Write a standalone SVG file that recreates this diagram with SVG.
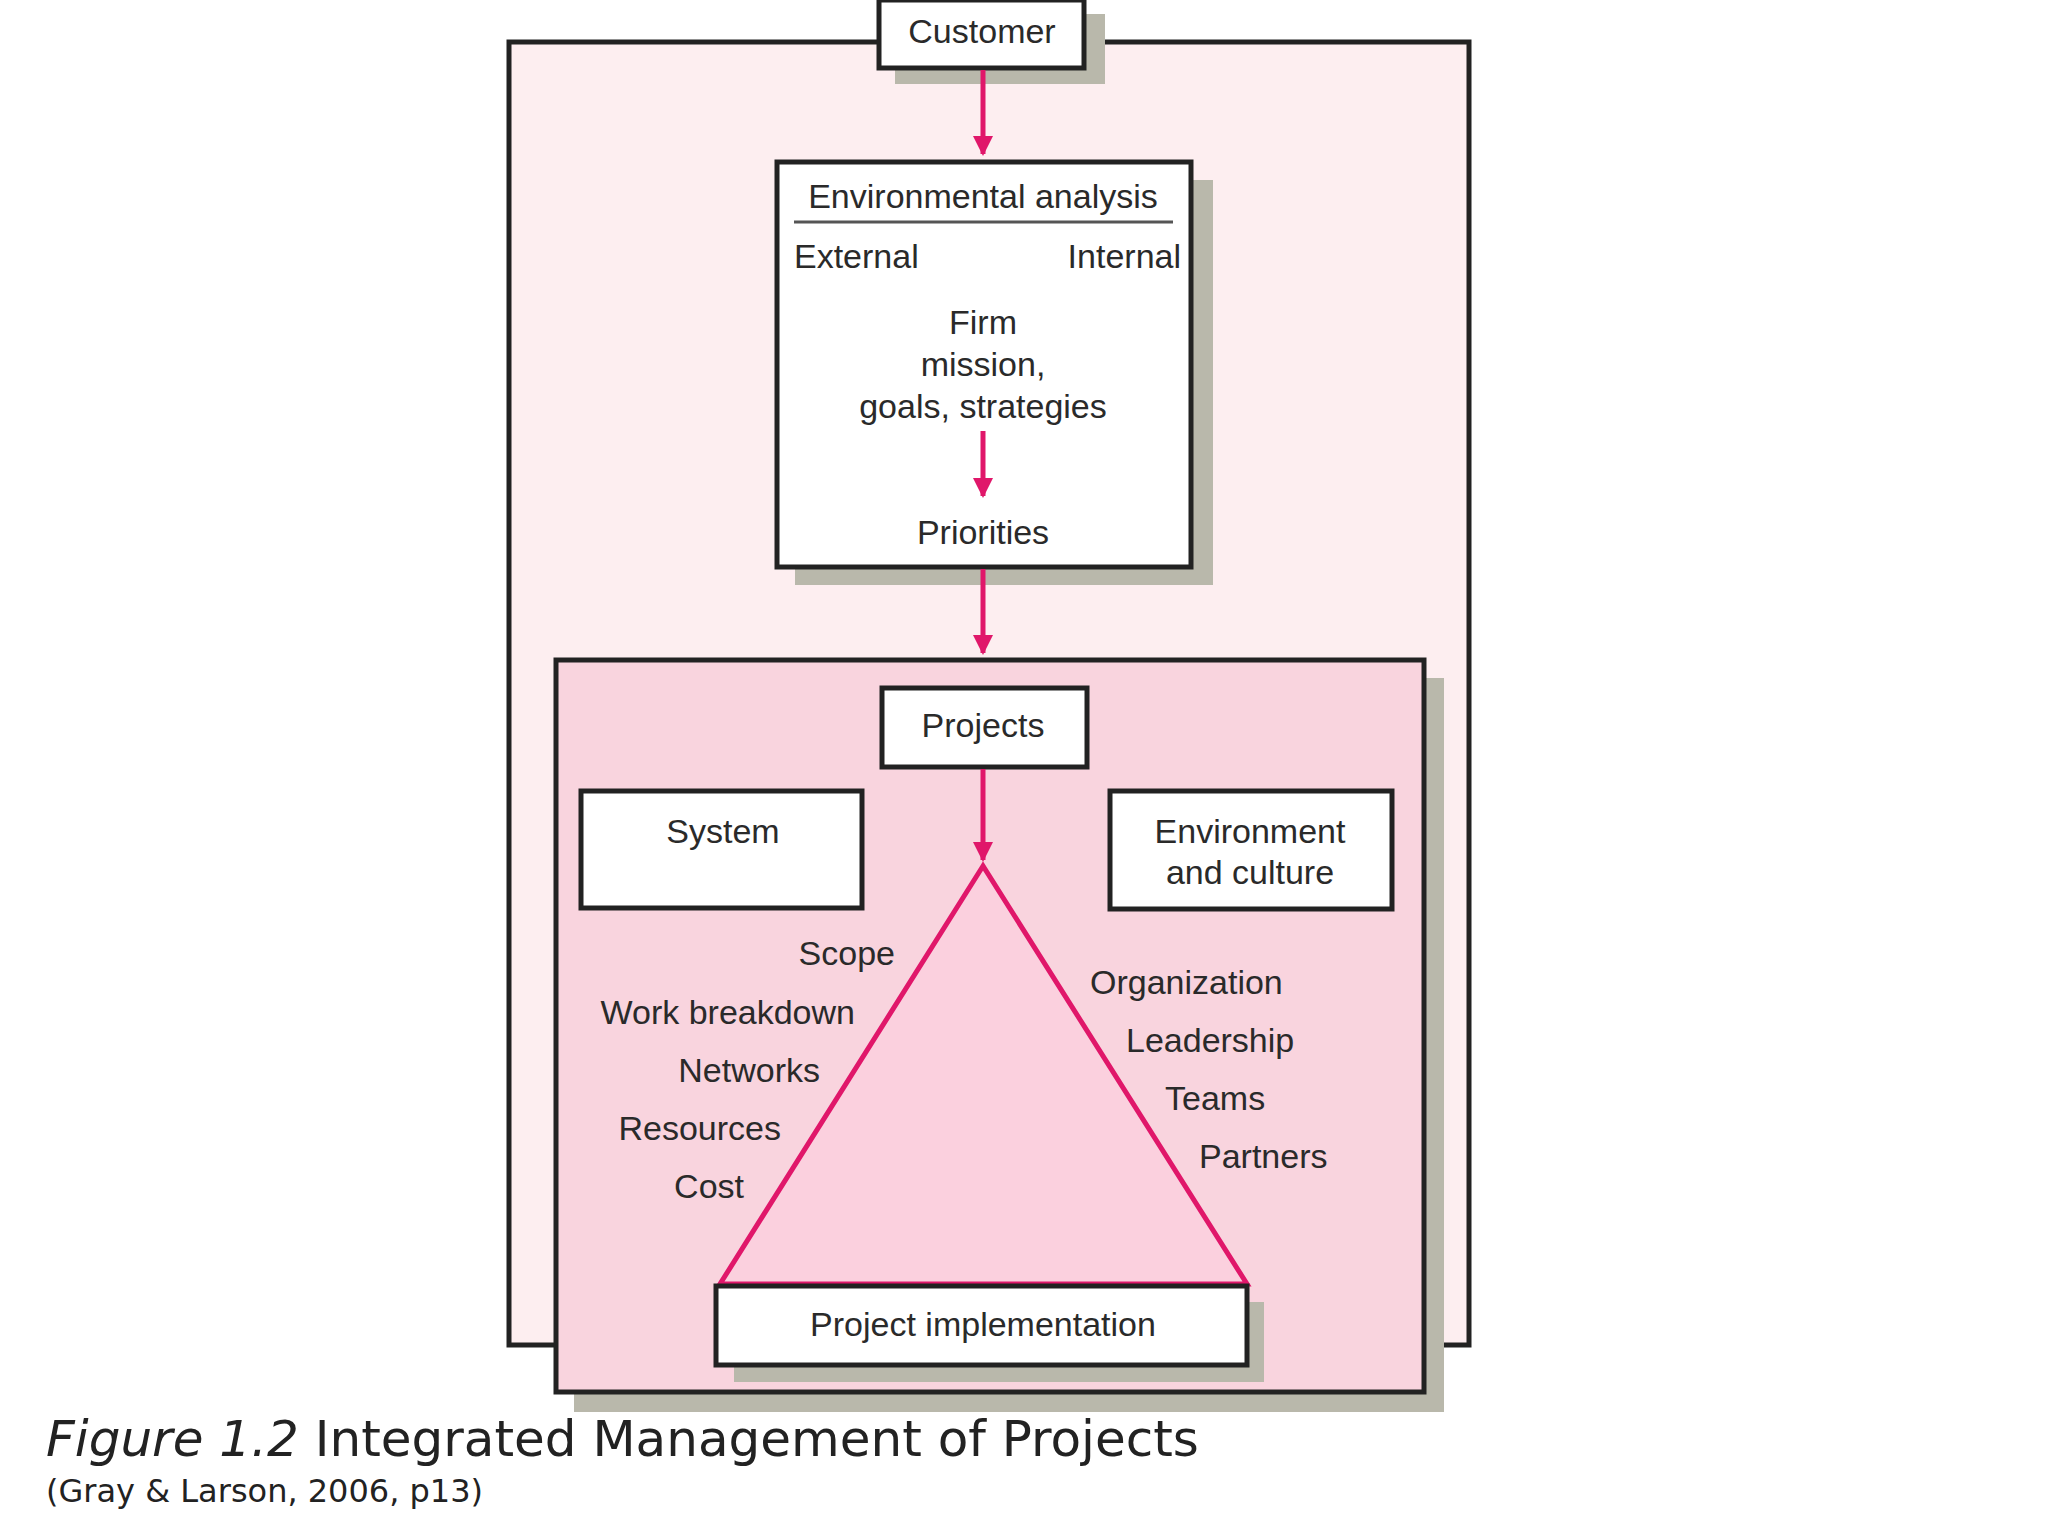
<svg xmlns="http://www.w3.org/2000/svg" width="2048" height="1536" viewBox="0 0 2048 1536">
<defs>
<style>
.b{stroke:#222;stroke-width:5;}
.w{fill:#fff;}
.sh{fill:#b9b8ab;}
.t{font-family:"Liberation Sans",Arial,sans-serif;font-size:34px;fill:#2a2a2a;}
.c{text-anchor:middle;}
.r{text-anchor:end;}
.ar{stroke:#e0176a;stroke-width:5;fill:none;marker-end:url(#ah);}
</style>
<marker id="ah" viewBox="0 0 10 10" refX="9" refY="5" markerWidth="4" markerHeight="4" orient="auto"><path d="M0,0 L10,5 L0,10 z" fill="#e0176a"/></marker>
</defs>
<rect width="2048" height="1536" fill="#fff"/>
<g id="outer"><rect x="509" y="42" width="960" height="1303" fill="#fdeef0" class="b"/></g>
<g id="customer">
<rect x="895" y="14" width="210" height="70" class="sh"/>
<rect x="879" y="0" width="205" height="68" class="w b"/>
<text x="982" y="43" class="t c">Customer</text>
</g>
<g id="env">
<rect x="795" y="180" width="418" height="405" class="sh"/>
<rect x="777" y="162" width="414" height="405" class="w b"/>
<text x="983" y="208" class="t c">Environmental analysis</text>
<line x1="794" y1="222" x2="1173" y2="222" stroke="#555" stroke-width="3"/>
<text x="794" y="268" class="t">External</text>
<text x="1181" y="268" class="t r">Internal</text>
<text x="983" y="334" class="t c">Firm</text>
<text x="983" y="376" class="t c">mission,</text>
<text x="983" y="418" class="t c">goals, strategies</text>
<text x="983" y="544" class="t c">Priorities</text>
</g>
<g id="inner">
<rect x="574" y="678" width="870" height="734" class="sh"/>
<rect x="556" y="660" width="868" height="732" fill="#f9d4de" class="b"/>
</g>
<g id="triangle"><polygon points="983,866 720,1284 1247,1284" fill="#fbd0de" stroke="#e0176a" stroke-width="5"/></g>
<g id="projects">
<rect x="882" y="688" width="205" height="79" class="w b"/>
<text x="983" y="737" class="t c">Projects</text>
</g>
<g id="system">
<rect x="581" y="791" width="281" height="117" class="w b"/>
<text x="723" y="843" class="t c">System</text>
</g>
<g id="envculture">
<rect x="1110" y="791" width="282" height="118" class="w b"/>
<text x="1250" y="843" class="t c">Environment</text>
<text x="1250" y="884" class="t c">and culture</text>
</g>
<g id="impl">
<rect x="734" y="1302" width="530" height="80" class="sh"/>
<rect x="716" y="1286" width="531" height="79" class="w b"/>
<text x="983" y="1336" class="t c">Project implementation</text>
</g>
<g id="labels">
<text x="895" y="965" class="t r">Scope</text>
<text x="855" y="1024" class="t r">Work breakdown</text>
<text x="820" y="1082" class="t r">Networks</text>
<text x="781" y="1140" class="t r">Resources</text>
<text x="744" y="1198" class="t r">Cost</text>
<text x="1090" y="994" class="t">Organization</text>
<text x="1126" y="1052" class="t">Leadership</text>
<text x="1165" y="1110" class="t">Teams</text>
<text x="1199" y="1168" class="t">Partners</text>
</g>
<g id="connectors">
<line x1="983" y1="70" x2="983" y2="154" class="ar"/>
<line x1="983" y1="431" x2="983" y2="496" class="ar"/>
<line x1="983" y1="569" x2="983" y2="653" class="ar"/>
<line x1="983" y1="769" x2="983" y2="860" class="ar"/>
</g>
<g id="caption">
<text x="46" y="1456" font-family="DejaVu Sans,Verdana,sans-serif" font-size="50" fill="#222"><tspan font-style="italic">Figure 1.2</tspan> Integrated Management of Projects</text>
<text x="46" y="1502" font-family="DejaVu Sans,Verdana,sans-serif" font-size="32" fill="#222">(Gray &amp; Larson, 2006, p13)</text>
</g>
</svg>
